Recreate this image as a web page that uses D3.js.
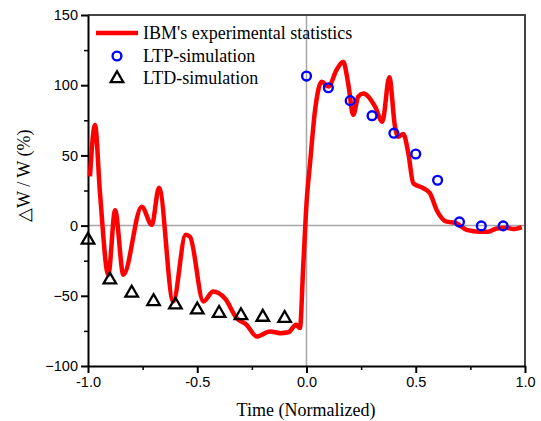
<!DOCTYPE html>
<html>
<head>
<meta charset="utf-8">
<script src="https://cdn.jsdelivr.net/npm/d3@7"></script>
<style>
  body { margin: 0; background: #fff; }
  svg { display: block; }
  .tick text { font-family: "Liberation Sans", Arial, sans-serif; font-size: 14.5px; fill: #000; }
  .title { font-family: "Liberation Serif", "Times New Roman", serif; font-size: 18px; fill: #000; }
</style>
</head>
<body>
<svg width="541" height="421"></svg>
<script>
// IBM experimental curve (x, dW/W)
const expX = [-0.991, -0.968, -0.945, -0.907, -0.876, -0.838, -0.754, -0.708, -0.675, -0.61, -0.553, -0.533,
  -0.472, -0.427, -0.373, -0.319, -0.274, -0.228, -0.167, -0.121, -0.083, -0.048, -0.03, -0.015, 0.001,
  0.016, 0.039, 0.07, 0.1, 0.138, 0.168, 0.191, 0.214, 0.237, 0.26, 0.314, 0.347, 0.379, 0.405, 0.42,
  0.443, 0.466, 0.489, 0.535, 0.565, 0.596, 0.642, 0.68, 0.733, 0.794, 0.832, 0.87, 0.916, 0.946, 0.985];
const expY = [35, 71.7, 23, -35, 11, -35, 13.5, 0.5, 27, -54, -6.6, -8,
  -54, -47, -52, -66, -70.7, -79, -75.4, -76.6, -76, -70.7, -73, -29, 18,
  44, 82, 102.5, 99, 111, 116.7, 101, 78.8, 92, 94, 84.7, 74, 105.6, 70.5, 63.3,
  65.3, 51.5, 30, 26.6, 23, 11, 2.8, 2, -3, -4.3, -4.3, -2, -1.5, -2.4, -1];

const ltpX = [0, 0.1, 0.2, 0.3, 0.4, 0.5, 0.6, 0.7, 0.8, 0.9];
const ltpY = [106.5, 98.2, 89, 78.3, 65.8, 51, 32.3, 2.6, -0.2, -0.2];

const ltdX = [-1, -0.9, -0.8, -0.7, -0.6, -0.5, -0.4, -0.3, -0.2, -0.1];
const ltdY = [-10.2, -38.6, -48, -54, -56.4, -60, -62.4, -64, -65.2, -66];

const xTicks = [-1, -0.5, 0, 0.5, 1];
const yTicks = [-100, -50, 0, 50, 100, 150];

const legendLabels = ["IBM's experimental statistics", "LTP-simulation", "LTD-simulation"];

const svg = d3.select("svg");
const pLeft = 88, pRight = 525, pTop = 15, pBottom = 366;

const x = d3.scaleLinear().domain([-1, 1]).range([pLeft, pRight]);
const y = d3.scaleLinear().domain([-100, 150]).range([pBottom, pTop]);

// zero lines
svg.append("line").attr("x1", pLeft).attr("x2", pRight).attr("y1", y(0)).attr("y2", y(0))
  .attr("stroke", "#a6a6a6").attr("stroke-width", 1.5);
svg.append("line").attr("x1", x(0)).attr("x2", x(0)).attr("y1", pTop).attr("y2", pBottom)
  .attr("stroke", "#a6a6a6").attr("stroke-width", 1.5);

// frame top/right
svg.append("path")
  .attr("d", `M${pLeft},${pTop}H${pRight}V${pBottom}`)
  .attr("fill", "none").attr("stroke", "#444").attr("stroke-width", 2);

// minor ticks
const xAxisMinor = d3.axisBottom(x).tickValues([-0.75, -0.25, 0.25, 0.75]).tickSize(4).tickFormat("");
const yAxisMinor = d3.axisLeft(y).tickValues([-75, -25, 25, 75, 125]).tickSize(4).tickFormat("");
svg.append("g").attr("transform", `translate(0,${pBottom})`).call(xAxisMinor)
  .call(g => g.select(".domain").remove())
  .selectAll("line").attr("stroke-width", 1.5);
svg.append("g").attr("transform", `translate(${pLeft},0)`).call(yAxisMinor)
  .call(g => g.select(".domain").remove())
  .selectAll("line").attr("stroke-width", 1.5);

const fmtX = d => d.toFixed(1);
const xAxis = d3.axisBottom(x).tickValues(xTicks).tickSize(7).tickPadding(4).tickSizeOuter(0).tickFormat(fmtX);
const yAxis = d3.axisLeft(y).tickValues(yTicks).tickSize(7).tickPadding(3).tickSizeOuter(0);

svg.append("g").attr("transform", `translate(0,${pBottom})`).call(xAxis)
  .call(g => g.selectAll("line, .domain").attr("stroke-width", 2));
svg.append("g").attr("transform", `translate(${pLeft},0)`).call(yAxis)
  .call(g => g.selectAll("line, .domain").attr("stroke-width", 2));

// experimental curve
const expData = expX.map((v, i) => [v, expY[i]]);
const line = d3.line().x(d => x(d[0])).y(d => y(d[1])).curve(d3.curveMonotoneX);
svg.append("path").datum(expData).attr("d", line)
  .attr("fill", "none").attr("stroke", "#ff0000").attr("stroke-width", 4.5)
  .attr("stroke-linejoin", "round");

// LTP circles
svg.append("g").selectAll("circle").data(ltpX).join("circle")
  .attr("cx", d => x(d)).attr("cy", (d, i) => y(ltpY[i])).attr("r", 4.4)
  .attr("fill", "none").attr("stroke", "#0000ff").attr("stroke-width", 2.4);

// LTD triangles
const tri = d3.symbol().type(d3.symbolTriangle).size(68);
svg.append("g").selectAll("path").data(ltdX).join("path")
  .attr("d", tri)
  .attr("transform", (d, i) => `translate(${x(d)},${y(ltdY[i])})`)
  .attr("fill", "none").attr("stroke", "#000").attr("stroke-width", 2.3);

// legend
const lg = svg.append("g");
lg.append("line").attr("x1", 96).attr("x2", 138).attr("y1", 33).attr("y2", 33)
  .attr("stroke", "#ff0000").attr("stroke-width", 4.5);
lg.append("circle").attr("cx", 117).attr("cy", 56).attr("r", 4.4)
  .attr("fill", "none").attr("stroke", "#0000ff").attr("stroke-width", 2.4);
lg.append("path").attr("d", tri).attr("transform", "translate(117,78.5)")
  .attr("fill", "none").attr("stroke", "#000").attr("stroke-width", 2.3);
legendLabels.forEach((t, i) => {
  lg.append("text").attr("class", "title").attr("x", 143).attr("y", 39 + i * 22.5).text(t);
});

// axis titles
svg.append("text").attr("class", "title").attr("x", 306).attr("y", 416)
  .attr("text-anchor", "middle").text("Time (Normalized)");
svg.append("text").attr("class", "title")
  .attr("transform", "translate(30,222) rotate(-90)")
  .text("\u25B3W / W (%)");
</script>
</body>
</html>
